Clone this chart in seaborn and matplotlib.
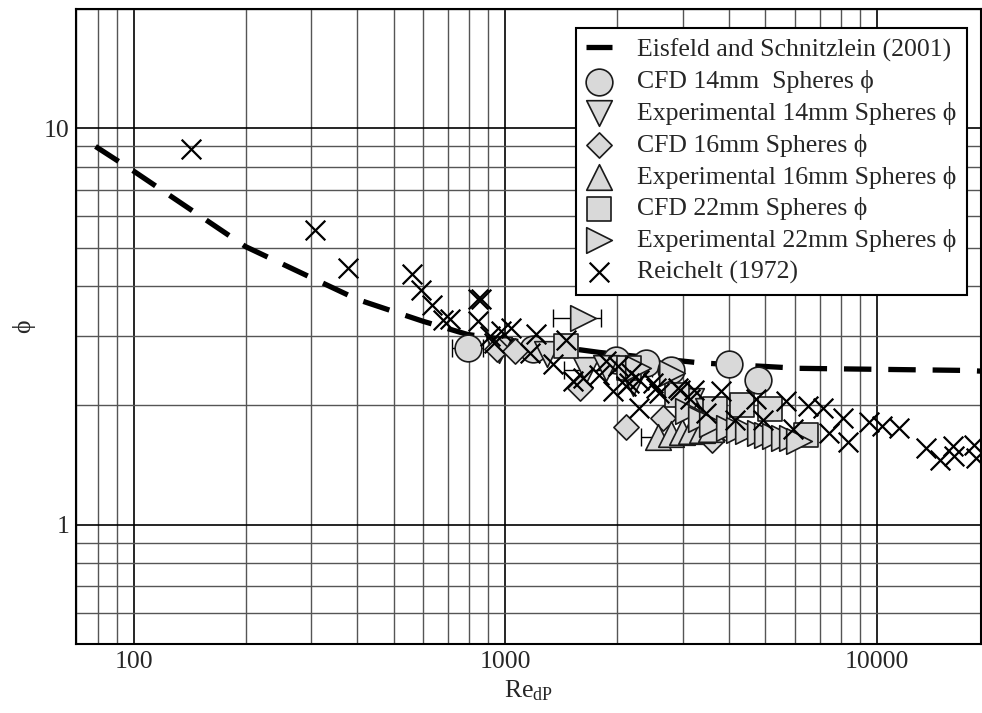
import numpy as np
import pandas as pd
import matplotlib
matplotlib.use("Agg")
import matplotlib.pyplot as plt
import seaborn as sns
from matplotlib.ticker import LogLocator, NullFormatter, FixedLocator, FixedFormatter

# correlazione Eisfeld and Schnitzlein
eisfeld_re = [79, 100, 200, 400, 600, 790, 1000, 1790, 3330, 6170, 17300, 19000]
eisfeld_phi = [9.0, 7.8, 5.03, 3.70, 3.26, 3.02, 2.93, 2.72, 2.56, 2.48, 2.45, 2.44]

# CFD 14mm
cfd14_re = [795, 1183, 1986, 2389, 2787, 4000, 4767]
cfd14_phi = [2.79, 2.77, 2.61, 2.56, 2.46, 2.54, 2.32]

# Experimental 14mm
exp14_re = [960, 1297, 1648, 1866, 2198, 3158, 3500]
exp14_phi = [2.76, 2.69, 2.46, 2.49, 2.28, 2.05, 1.93]

# CFD 16mm
cfd16_re = [950, 1064, 1582, 2109, 2650, 3600]
cfd16_phi = [2.78, 2.75, 2.21, 1.76, 1.86, 1.64]

# Experimental 16mm
exp16_re = [2564, 2795, 2990, 3163, 3386, 3560]
exp16_phi = [1.66, 1.69, 1.71, 1.72, 1.73, 1.74]

# CFD 22mm
cfd22_re = [1456, 2155, 2900, 3650, 4335, 5130, 6440]
cfd22_phi = [2.82, 2.49, 2.13, 1.96, 2.00, 1.96, 1.68]

# Experimental 22mm
exp22_re = [1615, 2265, 2800, 3100, 3350, 3600, 4000, 4255, 4477, 4823, 5063, 5320, 5625, 5912, 6170]
exp22_phi = [3.33, 2.49, 2.42, 1.93, 1.85, 1.80, 1.75, 1.73, 1.72, 1.70, 1.68, 1.67, 1.65, 1.65, 1.63]

# Reichelt (1972)
reichelt_re = [143, 308, 377, 561, 593, 635, 678, 710, 841, 861, 843, 906, 933, 972, 1035,
               1162, 1210, 1340, 1456, 1517, 1615, 1790, 1866, 1943, 2005, 2109, 2153, 2177,
               2293, 2293, 2486, 2543, 2594, 2906, 2938, 3126, 3222, 3465, 3803, 4130, 4724,
               4920, 5685, 5920, 6500, 7130, 7430, 8070, 8320, 9510, 10320, 11460, 13520,
               14700, 15930, 16100, 18240, 18440]
reichelt_phi = [8.89, 5.53, 4.45, 4.28, 3.90, 3.59, 3.29, 3.31, 3.70, 3.70, 3.26, 2.99, 2.88,
                3.08, 3.14, 2.71, 3.02, 2.54, 2.93, 2.30, 2.35, 2.39, 2.59, 2.17, 2.51, 2.24,
                2.28, 2.42, 1.97, 2.32, 2.28, 2.21, 2.15, 2.21, 2.19, 2.07, 2.19, 1.91, 2.17,
                1.84, 2.07, 1.84, 2.05, 1.74, 1.99, 1.97, 1.70, 1.86, 1.62, 1.82, 1.77, 1.75,
                1.56, 1.46, 1.58, 1.49, 1.59, 1.47]

# barre di errore (orizzontali) su alcuni punti
err_re = [1615, 795, 1648, 2564, 2265]
err_phi = [3.33, 2.79, 2.46, 1.66, 2.49]
err_low = [275, 76, 208, 247, 214]
err_high = [192, 76, 208, 223, 214]

sns.set_style("white")
plt.rcParams['font.family'] = ['Liberation Serif', 'DejaVu Serif']
plt.rcParams['mathtext.fontset'] = 'custom'
plt.rcParams['mathtext.rm'] = 'Liberation Serif'
plt.rcParams['mathtext.it'] = 'Liberation Serif:italic'

fs = 18.5

fig = plt.figure(figsize=(9.82, 7.13), dpi=100)
ax = fig.add_axes([76 / 982, 1 - 644 / 713, 905 / 982, 635 / 713])
ax.set_xscale('log')
ax.set_yscale('log')

grigio = '#d9d9d9'
bordo = '#1a1a1a'

ax.errorbar(err_re, err_phi, xerr=[err_low, err_high], fmt='none', ecolor='black',
            elinewidth=1.0, capsize=6.5, capthick=1.0, zorder=2)

sns.lineplot(x=eisfeld_re, y=eisfeld_phi, ax=ax, color='black', lw=3.8,
             linestyle=(0, (5.2, 3.2)), label='Eisfeld and Schnitzlein (2001)', zorder=3)

serie = [
    (cfd14_re, cfd14_phi, 'o', 370, 'CFD 14mm  Spheres ϕ'),
    (exp14_re, exp14_phi, 'v', 340, 'Experimental 14mm Spheres ϕ'),
    (cfd16_re, cfd16_phi, 'D', 165, 'CFD 16mm Spheres ϕ'),
    (exp16_re, exp16_phi, '^', 340, 'Experimental 16mm Spheres ϕ'),
    (cfd22_re, cfd22_phi, 's', 290, 'CFD 22mm Spheres ϕ'),
    (exp22_re, exp22_phi, '>', 340, 'Experimental 22mm Spheres ϕ'),
]
for i, (xs, ys, m, s, lab) in enumerate(serie):
    sns.scatterplot(x=xs, y=ys, ax=ax, marker=m, s=s, color=grigio, edgecolor=bordo,
                    linewidth=1.2, label=lab, zorder=4 + i)

sns.scatterplot(x=reichelt_re, y=reichelt_phi, ax=ax, marker='x', s=200, color='black',
                linewidth=1.6, label='Reichelt (1972)', zorder=12)

ax.set_xlim(70, 19000)
ax.set_ylim(0.5, 20)

# griglia logaritmica
ax.xaxis.set_major_locator(FixedLocator([100, 1000, 10000]))
ax.xaxis.set_major_formatter(FixedFormatter(['100', '1000', '10000']))
ax.xaxis.set_minor_locator(LogLocator(base=10, subs=np.arange(2, 10)))
ax.xaxis.set_minor_formatter(NullFormatter())
ax.yaxis.set_major_locator(FixedLocator([1, 10]))
ax.yaxis.set_major_formatter(FixedFormatter(['1', '10']))
ax.yaxis.set_minor_locator(LogLocator(base=10, subs=np.arange(2, 10)))
ax.yaxis.set_minor_formatter(NullFormatter())
ax.grid(True, which='major', color='black', lw=1.2, zorder=0)
ax.grid(True, which='minor', color='#555555', lw=1.0, zorder=0)
ax.set_axisbelow(True)
ax.tick_params(which='both', direction='in', length=6, width=1.2, color='black',
               labelsize=fs, pad=5)

for sp in ax.spines.values():
    sp.set_color('black')
    sp.set_linewidth(1.5)

ax.set_xlabel(r'$\mathrm{Re}_{\mathrm{dP}}$', fontsize=fs, labelpad=4)
ax.set_ylabel('ϕ', fontsize=fs, labelpad=6)

leg = ax.legend(loc='upper right', bbox_to_anchor=(0.9845, 0.970), borderaxespad=0,
                fontsize=fs, frameon=True, fancybox=False, framealpha=1,
                edgecolor='black', handlelength=1.0, handletextpad=1.0,
                labelspacing=0.34, borderpad=0.4)
leg.get_frame().set_linewidth(1.5)

fig.savefig('out.png', dpi=100)
